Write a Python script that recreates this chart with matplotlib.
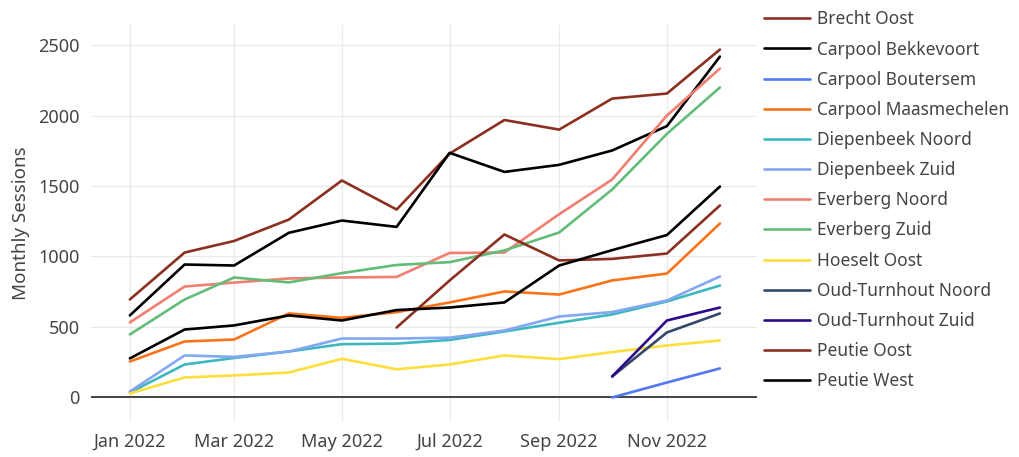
import matplotlib
matplotlib.use("Agg")
import matplotlib.pyplot as plt
import matplotlib.dates as mdates
import pandas as pd
import numpy as np

# --- data (monthly sessions per station) ---
months = pd.to_datetime(["2022-01-01", "2022-02-01", "2022-03-01", "2022-04-01",
                         "2022-05-01", "2022-06-01", "2022-07-01", "2022-08-01",
                         "2022-09-01", "2022-10-01", "2022-11-01", "2022-12-01"])

brecht_oost = [695, 1028, 1110, 1262, 1539, 1333, 1730, 1968, 1900, 2120, 2156, 2468]
carpool_bekkevoort = [582, 943, 936, 1168, 1255, 1210, 1735, 1600, 1650, 1752, 1925, 2418]
carpool_boutersem = [None] * 9 + [0, 106, 206]
carpool_maasmechelen = [255, 397, 411, 596, 565, 605, 674, 752, 730, 830, 879, 1234]
diepenbeek_noord = [35, 234, 280, 326, 378, 382, 408, 468, 530, 589, 681, 794]
diepenbeek_zuid = [42, 298, 288, 326, 418, 418, 424, 475, 574, 606, 688, 858]
everberg_noord = [532, 787, 815, 844, 851, 855, 1025, 1028, 1300, 1546, 2000, 2333]
everberg_zuid = [447, 695, 851, 816, 882, 940, 960, 1043, 1170, 1475, 1870, 2199]
hoeselt_oost = [28, 142, 156, 177, 274, 200, 234, 298, 272, 322, 369, 404]
oud_turnhout_noord = [None] * 9 + [149, 461, 596]
oud_turnhout_zuid = [None] * 9 + [149, 546, 638]
peutie_oost = [None] * 5 + [496, 830, 1156, 972, 983, 1021, 1362]
peutie_west = [277, 482, 511, 582, 546, 620, 638, 674, 936, 1045, 1152, 1496]

names = ["Brecht Oost", "Carpool Bekkevoort", "Carpool Boutersem", "Carpool Maasmechelen",
         "Diepenbeek Noord", "Diepenbeek Zuid", "Everberg Noord", "Everberg Zuid",
         "Hoeselt Oost", "Oud-Turnhout Noord", "Oud-Turnhout Zuid", "Peutie Oost", "Peutie West"]
series = [brecht_oost, carpool_bekkevoort, carpool_boutersem, carpool_maasmechelen,
          diepenbeek_noord, diepenbeek_zuid, everberg_noord, everberg_zuid,
          hoeselt_oost, oud_turnhout_noord, oud_turnhout_zuid, peutie_oost, peutie_west]
colors = ["#8B3020", "#000000", "#5278F2", "#FA7319", "#3DB8BE", "#84A7F2",
          "#F07F72", "#63BC78", "#FCDE3C", "#34476A", "#2C0A8C", "#8B3020", "#000000"]

plt.rcParams["font.family"] = ["Noto Sans", "DejaVu Sans"]
text_color = "#444444"

fig = plt.figure(figsize=(10.19, 4.57), dpi=100)
ax = fig.add_axes([0.0893, 0.0766, 0.6536, 0.8687])

for name, vals, col in zip(names, series, colors):
    y = np.array([np.nan if v is None else v for v in vals], dtype=float)
    ax.plot(months, y, color=col, lw=1.9, label=name, solid_capstyle="round")

ax.axhline(0, color="#444444", lw=1.4, zorder=1)

ax.set_ylim(-174, 2642)
ax.set_yticks([0, 500, 1000, 1500, 2000, 2500])
ax.set_xlim(pd.Timestamp("2021-12-10"), pd.Timestamp("2022-12-22"))
ax.xaxis.set_major_locator(mdates.MonthLocator(bymonth=[1, 3, 5, 7, 9, 11]))
ax.xaxis.set_major_formatter(mdates.DateFormatter("%b %Y"))

ax.grid(True, color="#EBEBEB", lw=1.0)
ax.set_axisbelow(True)
for s in ax.spines.values():
    s.set_visible(False)
ax.tick_params(length=0, labelsize=13, labelcolor=text_color, pad=8)
ax.set_ylabel("Monthly Sessions", fontsize=13.5, color=text_color, labelpad=6)

fig.legend(loc="upper left", bbox_to_anchor=(0.740, 1.0), frameon=False,
           fontsize=12.5, labelcolor=text_color, handlelength=2.6,
           handletextpad=0.45, labelspacing=0.70, borderaxespad=0.2)

fig.savefig("out.png", dpi=100, facecolor="white")
